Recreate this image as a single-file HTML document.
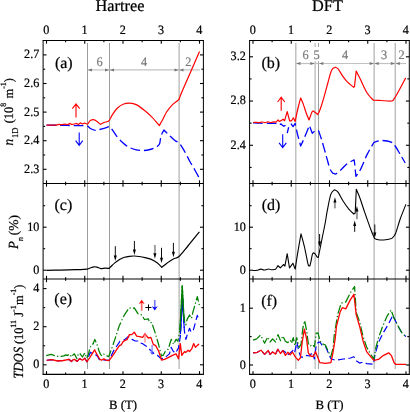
<!DOCTYPE html>
<html><head><meta charset="utf-8"><title>fig</title>
<style>html,body{margin:0;padding:0;background:#fff}svg{display:block;will-change:transform;text-rendering:geometricPrecision}text{stroke:#000;stroke-width:.22px}text.g{stroke:#7a7a7a}</style></head>
<body>
<svg width="410" height="412" viewBox="0 0 410 412" font-family="'Liberation Serif', serif" fill="#000">
<rect width="410" height="412" fill="#fff"/>
<line x1="87.50" y1="43" x2="87.50" y2="369" stroke="#9c9c9c" stroke-width="1"/>
<line x1="109.50" y1="43" x2="109.50" y2="369" stroke="#9c9c9c" stroke-width="1"/>
<line x1="179.10" y1="43" x2="179.10" y2="369" stroke="#a0a0a0" stroke-width="1"/>
<line x1="295.85" y1="43" x2="295.85" y2="369" stroke="#a0a0a0" stroke-width="1"/>
<line x1="315.10" y1="43" x2="315.10" y2="369" stroke="#a6a6a6" stroke-width="1"/>
<line x1="318.50" y1="43" x2="318.50" y2="369" stroke="#a0a0a0" stroke-width="1"/>
<line x1="374.12" y1="43" x2="374.12" y2="369" stroke="#a0a0a0" stroke-width="1"/>
<line x1="395.20" y1="43" x2="395.20" y2="369" stroke="#a0a0a0" stroke-width="1"/>
<line x1="87.5" y1="69.9" x2="109.5" y2="69.9" stroke="#c2c2c2" stroke-width="1.2"/>
<path d="M87.8 69.9 l4.2 -1.5 v3z" fill="#777"/>
<path d="M109.2 69.9 l-4.2 -1.5 v3z" fill="#777"/>
<line x1="109.5" y1="69.9" x2="179.0" y2="69.9" stroke="#c2c2c2" stroke-width="1.2"/>
<path d="M109.8 69.9 l4.2 -1.5 v3z" fill="#777"/>
<path d="M178.7 69.9 l-4.2 -1.5 v3z" fill="#777"/>
<line x1="179.0" y1="69.9" x2="200.0" y2="69.9" stroke="#c2c2c2" stroke-width="1.2"/>
<path d="M179.3 69.9 l4.2 -1.5 v3z" fill="#777"/>
<line x1="296.0" y1="63.5" x2="314.8" y2="63.5" stroke="#c2c2c2" stroke-width="1.2"/>
<path d="M296.3 63.5 l4.2 -1.5 v3z" fill="#777"/>
<path d="M314.5 63.5 l-4.2 -1.5 v3z" fill="#777"/>
<line x1="318.8" y1="63.5" x2="374.2" y2="63.5" stroke="#c2c2c2" stroke-width="1.2"/>
<path d="M319.1 63.5 l4.2 -1.5 v3z" fill="#777"/>
<path d="M373.9 63.5 l-4.2 -1.5 v3z" fill="#777"/>
<line x1="374.2" y1="63.5" x2="395.3" y2="63.5" stroke="#c2c2c2" stroke-width="1.2"/>
<path d="M374.5 63.5 l4.2 -1.5 v3z" fill="#777"/>
<path d="M395.0 63.5 l-4.2 -1.5 v3z" fill="#777"/>
<line x1="395.3" y1="63.5" x2="406.0" y2="63.5" stroke="#c2c2c2" stroke-width="1.2"/>
<path d="M395.6 63.5 l4.2 -1.5 v3z" fill="#777"/>
<line x1="314.8" y1="63.5" x2="318.8" y2="63.5" stroke="#c2c2c2" stroke-width="1.2"/>
<rect x="312" y="47" width="9" height="14.2" fill="#fff"/>
<text transform="translate(99.6,65.7) scale(0.95,1)" font-size="13" fill="#7a7a7a" class="g" text-anchor="middle">6</text>
<text transform="translate(144.1,65.7) scale(0.95,1)" font-size="13" fill="#7a7a7a" class="g" text-anchor="middle">4</text>
<text transform="translate(188.3,65.7) scale(0.95,1)" font-size="13" fill="#7a7a7a" class="g" text-anchor="middle">2</text>
<text transform="translate(305.5,58.7) scale(0.95,1)" font-size="13" fill="#7a7a7a" class="g" text-anchor="middle">6</text>
<text transform="translate(316.7,58.7) scale(0.95,1)" font-size="13" fill="#7a7a7a" class="g" text-anchor="middle">5</text>
<text transform="translate(345.0,58.7) scale(0.95,1)" font-size="13" fill="#7a7a7a" class="g" text-anchor="middle">4</text>
<text transform="translate(384.0,58.7) scale(0.95,1)" font-size="13" fill="#7a7a7a" class="g" text-anchor="middle">3</text>
<text transform="translate(401.5,58.7) scale(0.95,1)" font-size="13" fill="#7a7a7a" class="g" text-anchor="middle">2</text>
<path d="M46.50 125.20 C48.75 125.22 56.08 125.25 60.00 125.30 C63.92 125.35 66.67 125.45 70.00 125.50 C73.33 125.55 77.08 125.53 80.00 125.60 C82.92 125.67 86.25 125.85 87.50 125.90 C88.07 126.38 89.62 128.07 90.90 128.80 C92.18 129.53 93.75 130.18 95.20 130.30 C96.65 130.42 98.13 129.82 99.60 129.50 C101.07 129.18 102.40 128.88 104.00 128.40 C105.60 127.92 108.33 126.90 109.20 126.60 C109.68 127.08 110.77 127.78 112.10 129.50 C113.43 131.22 115.37 134.65 117.20 136.90 C119.03 139.15 121.15 141.28 123.10 143.00 C125.05 144.72 126.72 146.07 128.90 147.20 C131.08 148.33 133.75 149.25 136.20 149.80 C138.65 150.35 141.30 150.55 143.60 150.50 C145.90 150.45 147.95 150.05 150.00 149.50 C152.05 148.95 154.32 148.12 155.90 147.20 C157.48 146.28 158.65 145.88 159.50 144.00 C160.35 142.12 160.27 138.23 161.00 135.90 C161.73 133.57 163.42 130.98 163.90 130.00 C164.75 130.85 167.17 133.35 169.00 135.10 C170.83 136.85 173.18 139.15 174.90 140.50 C176.62 141.85 177.83 141.65 179.30 143.20 C180.77 144.75 182.00 146.88 183.70 149.80 C185.40 152.72 187.55 157.17 189.50 160.70 C191.45 164.23 193.82 168.18 195.40 171.00 C196.98 173.82 198.40 176.50 199.00 177.60" fill="none" stroke="#0000ff" stroke-width="1.30" stroke-linejoin="round" stroke-dasharray="9.7 3.9" stroke-dashoffset="0"/>
<path d="M46.50 125.10 C48.10 125.10 54.02 125.22 56.10 125.10 C58.18 124.98 58.02 124.47 59.00 124.40 C59.98 124.33 61.02 124.75 62.00 124.70 C62.98 124.65 63.93 124.12 64.90 124.10 C65.87 124.08 67.32 124.52 67.80 124.60 C68.17 124.40 69.63 123.60 70.00 123.40 C70.25 123.57 71.25 124.23 71.50 124.40 C71.98 124.33 73.55 124.17 74.40 124.00 C75.25 123.83 76.23 123.50 76.60 123.40 C76.90 123.60 78.10 124.40 78.40 124.60 C78.72 124.32 79.98 123.18 80.30 122.90 C80.67 123.08 82.13 123.82 82.50 124.00 C82.87 123.85 84.33 123.25 84.70 123.10 C85.07 123.25 86.38 123.85 86.90 124.00 C87.42 124.15 87.65 124.00 87.80 124.00 C88.18 123.42 89.72 121.08 90.10 120.50 C90.58 120.37 92.02 119.67 93.00 119.70 C93.98 119.73 94.77 119.92 96.00 120.70 C97.23 121.48 99.67 123.78 100.40 124.40 C101.00 124.08 102.78 122.98 104.00 122.50 C105.22 122.02 106.78 121.92 107.70 121.50 C108.62 121.08 108.65 121.22 109.50 120.00 C110.35 118.78 111.52 116.15 112.80 114.20 C114.08 112.25 115.48 109.95 117.20 108.30 C118.92 106.65 121.02 105.15 123.10 104.30 C125.18 103.45 127.52 103.15 129.70 103.20 C131.88 103.25 133.72 103.38 136.20 104.60 C138.68 105.82 141.97 108.42 144.60 110.50 C147.23 112.58 149.55 114.58 152.00 117.10 C154.45 119.62 158.08 124.18 159.30 125.60 C159.90 124.55 161.68 121.57 162.90 119.30 C164.12 117.03 165.00 114.45 166.60 112.00 C168.20 109.55 170.55 106.60 172.50 104.60 C174.45 102.60 177.08 101.22 178.30 100.00 C179.52 98.78 179.07 98.97 179.80 97.30 C180.53 95.63 179.42 97.62 182.70 90.00 C185.98 82.38 196.70 58.00 199.50 51.60" fill="none" stroke="#ff0000" stroke-width="1.20" stroke-linejoin="round"/>
<path d="M253.10 122.80 C254.25 122.87 257.18 123.10 260.00 123.20 C262.82 123.30 267.33 123.37 270.00 123.40 C272.67 123.43 274.67 123.17 276.00 123.40 C277.33 123.63 277.67 124.57 278.00 124.80 C278.50 124.67 280.50 124.13 281.00 124.00 C281.48 124.38 283.42 125.92 283.90 126.30 C284.17 126.12 285.23 125.38 285.50 125.20" fill="none" stroke="#0000ff" stroke-width="1.30" stroke-linejoin="round" stroke-dasharray="9.7 3.9" stroke-dashoffset="0"/>
<path d="M287.20 133.20 C287.50 132.10 288.33 128.13 289.00 126.60 C289.67 125.07 290.83 124.43 291.20 124.00 C291.52 124.43 292.78 126.17 293.10 126.60 C293.43 126.07 294.77 123.93 295.10 123.40 C295.55 125.40 296.87 131.63 297.80 135.40 C298.73 139.17 300.22 144.23 300.70 146.00 C301.33 144.58 303.05 140.92 304.50 137.50 C305.95 134.08 308.58 127.50 309.40 125.50 C309.88 126.80 311.82 132.00 312.30 133.30 C312.78 132.82 314.72 130.88 315.20 130.40 C315.78 130.50 318.12 130.90 318.70 131.00 C319.25 132.67 320.80 137.05 322.00 141.00 C323.20 144.95 324.60 150.15 325.90 154.70 C327.20 159.25 328.67 165.23 329.80 168.30 C330.93 171.37 332.22 172.30 332.70 173.10 C333.18 173.27 335.12 173.93 335.60 174.10 C336.42 173.45 338.63 171.88 340.50 170.20 C342.37 168.52 344.60 165.68 346.80 164.00 C349.00 162.32 352.55 160.75 353.70 160.10 C353.82 160.33 354.03 158.80 354.40 161.50 C354.77 164.20 355.65 173.83 355.90 176.30 C356.67 175.17 358.60 173.20 360.50 169.50 C362.40 165.80 365.03 158.65 367.30 154.10 C369.57 149.55 372.97 144.18 374.10 142.20 C375.38 141.92 378.95 140.50 381.80 140.50 C384.65 140.50 388.92 141.20 391.20 142.20 C393.48 143.20 393.93 144.37 395.50 146.50 C397.07 148.63 398.98 152.25 400.60 155.00 C402.22 157.75 404.43 161.67 405.20 163.00" fill="none" stroke="#0000ff" stroke-width="1.30" stroke-linejoin="round" stroke-dasharray="9.7 3.9" stroke-dashoffset="3.7"/>
<path d="M253.10 122.50 C253.75 122.47 256.02 122.27 257.00 122.30 C257.98 122.33 258.17 122.75 259.00 122.70 C259.83 122.65 261.00 122.02 262.00 122.00 C263.00 121.98 264.00 122.62 265.00 122.60 C266.00 122.58 267.00 121.92 268.00 121.90 C269.00 121.88 270.00 122.52 271.00 122.50 C272.00 122.48 273.17 121.85 274.00 121.80 C274.83 121.75 275.67 122.13 276.00 122.20 C276.33 121.83 277.67 120.37 278.00 120.00 C278.25 120.25 279.25 121.25 279.50 121.50 C280.10 121.13 282.50 119.67 283.10 119.30 C283.35 119.53 284.35 120.47 284.60 120.70 C285.03 119.20 286.77 113.20 287.20 111.70 C287.62 113.25 289.28 119.45 289.70 121.00 C290.00 120.97 291.20 120.83 291.50 120.80 C291.82 120.30 293.08 118.30 293.40 117.80 C293.68 118.42 294.82 120.88 295.10 121.50 C295.55 119.42 296.87 112.92 297.80 109.00 C298.73 105.08 300.22 99.83 300.70 98.00 C301.12 98.98 302.30 101.45 303.20 103.90 C304.10 106.35 305.13 110.02 306.10 112.70 C307.07 115.38 308.52 118.78 309.00 120.00 C309.50 118.67 311.27 113.50 312.00 112.00 C312.73 110.50 313.17 111.17 313.40 111.00 C313.77 111.28 314.87 112.12 315.60 112.70 C316.33 113.28 317.43 114.20 317.80 114.50 C318.17 113.72 319.02 112.53 320.00 109.80 C320.98 107.07 322.35 102.73 323.70 98.10 C325.05 93.47 326.88 86.40 328.10 82.00 C329.32 77.60 330.15 74.02 331.00 71.70 C331.85 69.38 332.83 68.70 333.20 68.10 C333.57 67.97 335.03 67.43 335.40 67.30 C335.88 67.60 337.08 67.63 338.30 69.10 C339.52 70.57 341.28 74.07 342.70 76.10 C344.12 78.13 344.97 79.43 346.80 81.30 C348.63 83.17 352.55 86.30 353.70 87.30 C353.83 87.17 354.37 86.63 354.50 86.50 C354.78 83.93 355.92 73.67 356.20 71.10 C356.92 72.52 358.65 75.90 360.50 79.60 C362.35 83.30 365.17 89.88 367.30 93.30 C369.43 96.72 372.30 98.97 373.30 100.10 C374.58 100.17 378.02 100.35 381.00 100.50 C383.98 100.65 389.07 101.20 391.20 101.00 C393.33 100.80 392.37 101.30 393.80 99.30 C395.23 97.30 397.82 92.57 399.80 89.00 C401.78 85.43 404.72 79.75 405.70 77.90" fill="none" stroke="#ff0000" stroke-width="1.20" stroke-linejoin="round"/>
<path d="M46.50 270.30 C48.75 270.27 55.25 270.20 60.00 270.10 C64.75 270.00 70.47 269.87 75.00 269.70 C79.53 269.53 84.70 269.38 87.20 269.10 C89.70 268.82 88.85 268.38 90.00 268.00 C91.15 267.62 92.93 266.93 94.10 266.80 C95.27 266.67 95.85 266.90 97.00 267.20 C98.15 267.50 99.67 268.45 101.00 268.60 C102.33 268.75 103.62 268.13 105.00 268.10 C106.38 268.07 108.58 268.35 109.30 268.40 C109.67 268.00 110.58 266.92 111.50 266.00 C112.42 265.08 113.45 263.98 114.80 262.90 C116.15 261.82 117.98 260.43 119.60 259.50 C121.22 258.57 122.87 257.83 124.50 257.30 C126.13 256.77 127.77 256.52 129.40 256.30 C131.03 256.08 132.68 255.97 134.30 256.00 C135.92 256.03 137.32 256.23 139.10 256.50 C140.88 256.77 142.97 257.12 145.00 257.60 C147.03 258.08 149.23 258.50 151.30 259.40 C153.37 260.30 155.67 261.68 157.40 263.00 C159.13 264.32 160.98 266.58 161.70 267.30 C162.62 266.58 165.27 264.40 167.20 263.00 C169.13 261.60 171.35 259.98 173.30 258.90 C175.25 257.82 176.47 258.65 178.90 256.50 C181.33 254.35 184.48 250.12 187.90 246.00 C191.32 241.88 197.48 234.17 199.40 231.80" fill="none" stroke="#000" stroke-width="1.20" stroke-linejoin="round"/>
<path d="M253.00 270.50 C253.67 270.47 255.72 270.53 257.00 270.30 C258.28 270.07 259.52 269.15 260.70 269.10 C261.88 269.05 262.77 270.02 264.10 270.00 C265.43 269.98 267.55 269.03 268.70 269.00 C269.85 268.97 269.85 269.75 271.00 269.80 C272.15 269.85 274.83 269.38 275.60 269.30 C276.00 268.68 277.60 266.22 278.00 265.60 C278.38 265.98 279.92 267.52 280.30 267.90 C280.87 267.33 283.13 265.07 283.70 264.50 C283.90 264.77 284.70 265.83 284.90 266.10 C285.28 264.03 286.82 255.77 287.20 253.70 C287.58 256.08 289.12 265.62 289.50 268.00 C290.07 267.22 292.33 264.08 292.90 263.30 C293.28 264.27 294.82 268.13 295.20 269.10 C295.58 266.60 296.53 259.98 297.50 254.10 C298.47 248.22 300.42 237.18 301.00 233.80 C301.58 236.03 303.40 242.45 304.50 247.20 C305.60 251.95 306.90 259.18 307.60 262.30 C308.30 265.42 308.52 265.30 308.70 265.90 C308.90 265.90 309.70 265.90 309.90 265.90 C310.08 265.13 310.60 263.18 311.00 261.30 C311.40 259.42 311.87 256.02 312.30 254.60 C312.73 253.18 313.38 253.10 313.60 252.80 C313.87 253.00 314.62 253.32 315.20 254.00 C315.78 254.68 316.58 256.32 317.10 256.90 C317.62 257.48 318.10 257.40 318.30 257.50 C318.87 254.63 320.55 246.05 321.70 240.30 C322.85 234.55 324.30 227.77 325.20 223.00 C326.10 218.23 326.18 216.43 327.10 211.70 C328.02 206.97 329.48 198.25 330.70 194.60 C331.92 190.95 333.78 190.60 334.40 189.80 C335.00 190.20 336.58 190.38 338.00 192.20 C339.42 194.02 341.07 197.85 342.90 200.70 C344.73 203.55 347.17 207.07 349.00 209.30 C350.83 211.53 353.08 213.30 353.90 214.10 C354.12 213.92 354.98 213.18 355.20 213.00 C355.38 209.05 356.12 193.25 356.30 189.30 C356.92 190.80 358.57 194.37 360.00 198.30 C361.43 202.23 363.07 207.62 364.90 212.90 C366.73 218.18 369.38 225.73 371.00 230.00 C372.62 234.27 374.00 237.08 374.60 238.50 C375.22 238.72 376.47 239.58 378.30 239.80 C380.13 240.02 383.37 240.02 385.60 239.80 C387.83 239.58 390.68 238.72 391.70 238.50 C392.32 237.70 393.98 236.95 395.40 233.70 C396.82 230.45 398.45 223.88 400.20 219.00 C401.95 214.12 404.95 206.83 405.90 204.40" fill="none" stroke="#000" stroke-width="1.10" stroke-linejoin="round"/>
<polyline points="46.7,360.3 51.8,359.7 57.6,361.0 63.5,360.5 68.9,359.3 71.4,361.5 72.9,359.9 74.4,359.4 77.2,361.4 79.6,358.6 82.4,360.2 84.8,358.2 86.8,361.8 88.2,357.5 90.4,352.2 92.8,353.8 96.0,355.0 97.8,356.6 99.4,359.7 108.9,360.4 114.0,350.1 119.9,341.4 124.3,339.9 128.1,336.7 130.5,337.2 132.1,339.4 135.2,341.0 138.4,341.0 140.0,343.0 142.3,343.5 146.3,346.2 148.6,347.8 150.2,350.1 152.6,351.7 154.1,354.1 157.3,355.2 160.4,358.0 163.5,358.8 166.4,356.4 169.4,353.9 171.2,347.3 173.0,350.9 175.5,353.3 178.5,347.9 180.4,336.0 181.4,318.0 182.5,297.5 183.4,314.0 184.4,331.2 185.9,339.3 187.4,334.2 189.6,328.3 191.0,332.0 193.2,330.5 195.4,322.5 197.3,315.3 198.8,320.3" fill="none" stroke="#0000ff" stroke-width="1.20" stroke-linejoin="round" stroke-dasharray="7 3.5"/>
<polyline points="180.4,334 181.4,318 182.5,297.5 183.4,314 184.2,328" fill="none" stroke="#0000ff" stroke-width="1.2" stroke-linejoin="round"/>
<polyline points="46.2,355.6 49.0,354.9 51.3,354.4 53.5,355.2 55.7,356.3 58.3,356.4 61.2,356.3 63.8,355.9 65.9,354.9 67.4,355.6 69.2,354.1 70.7,355.6 71.8,357.0 73.0,354.9 74.4,353.8 76.8,358.6 78.0,355.0 79.6,353.0 82.4,357.0 84.8,353.0 86.8,358.2 88.4,354.2 90.0,347.8 92.0,344.2 93.2,343.8 94.8,339.4 96.8,343.8 98.8,350.2 100.4,354.2 102.0,356.0 103.8,354.2 106.0,355.3 108.7,356.7 113.2,344.3 115.1,338.6 119.4,325.4 124.3,315.1 129.2,307.8 132.1,308.6 134.3,307.8 137.9,313.7 140.9,314.4 144.5,319.5 148.2,318.8 149.7,322.5 151.6,322.5 154.8,331.6 158.5,344.2 161.5,355.8 163.3,355.2 165.2,351.5 168.2,349.1 171.2,339.4 173.6,344.2 176.1,339.4 177.9,341.2 179.9,330.0 181.0,310.0 182.2,285.9 183.2,303.0 183.8,315.0 184.5,321.5 185.8,324.8 187.1,319.4 189.5,315.0 191.5,318.4 192.9,312.1 194.9,305.3 197.3,296.6 199.4,305.3" fill="none" stroke="#008000" stroke-width="1.25" stroke-linejoin="round" stroke-dasharray="9 2.3 1.3 2.3"/>
<polyline points="179.9,330 181.0,310 182.25,285.9 183.2,303 183.8,315 184.5,321.5" fill="none" stroke="#008000" stroke-width="1.25" stroke-linejoin="round"/>
<polyline points="46.7,360.3 51.8,359.7 57.6,361.0 63.5,360.5 68.9,359.3 71.4,361.5 72.9,359.9 74.4,359.4 77.2,361.4 79.6,358.6 82.4,360.2 84.8,358.2 86.8,361.8 89.6,357.8 92.0,354.2 94.6,349.8 96.8,354.2 99.6,359.0 101.5,360.2 103.8,358.9 106.0,360.1 108.9,360.7 112.6,355.8 117.0,349.2 119.6,345.3 121.1,345.0 123.0,341.8 125.0,340.4 127.0,339.6 129.4,334.6 131.8,334.6 134.3,332.2 136.7,336.1 139.6,336.6 142.6,337.4 145.0,334.1 148.4,338.0 150.9,337.4 153.3,344.4 155.7,345.6 158.7,351.2 161.5,360.0 164.5,359.4 168.2,357.6 173.0,355.2 176.1,353.9 178.5,358.8 180.3,343.6 181.8,355.3 184.5,351.6 185.9,352.4 188.1,350.2 189.6,351.6 191.8,348.7 193.7,343.6 195.4,347.3 197.6,345.1 199.1,344.1" fill="none" stroke="#ff0000" stroke-width="1.30" stroke-linejoin="round"/>
<polyline points="253.0,352.9 257.3,352.3 261.0,350.2 264.6,354.4 268.3,350.5 270.1,354.4 272.6,352.0 275.6,354.1 277.8,349.3 280.5,353.5 282.9,350.5 284.8,351.7 287.2,355.4 290.2,352.9 292.9,350.5 294.5,352.9 297.0,342.0 298.8,351.7 301.0,357.2 303.4,357.2 306.5,355.4 309.5,356.0 312.6,352.3 314.4,359.0 316.2,345.6 318.0,342.6 319.9,342.0 322.3,345.6 325.4,346.2 327.8,351.7 330.9,358.8 335.4,360.2 343.5,359.0 350.4,358.0 353.9,356.7 356.2,360.8 359.6,363.1 363.1,362.0 366.6,363.6 373.5,364.3 375.0,354.6 378.7,341.9 383.2,332.8 388.7,323.7 392.7,315.5 394.1,318.2 398.7,327.3 402.3,333.7 406.0,336.4" fill="none" stroke="#0000ff" stroke-width="1.20" stroke-linejoin="round" stroke-dasharray="7 3.5"/>
<polyline points="253.0,340.1 256.7,338.9 260.4,335.2 262.2,338.3 264.6,343.2 267.7,337.1 270.1,342.0 272.6,338.9 275.6,342.0 278.0,334.6 280.5,340.7 282.9,335.9 285.4,341.3 287.8,342.6 290.2,340.1 291.5,343.2 293.3,337.7 294.9,345.6 296.7,337.7 299.1,347.4 301.0,344.4 302.8,328.5 304.6,320.6 306.5,329.8 308.3,343.2 310.1,346.2 312.6,344.4 314.4,346.8 316.2,333.4 318.0,332.8 319.9,340.7 322.3,343.8 325.4,345.0 327.8,350.5 330.9,356.6 333.3,346.8 334.2,335.4 337.7,314.6 341.2,303.1 345.8,301.9 350.4,292.7 354.6,286.5 356.2,312.3 359.6,321.6 363.1,336.6 366.6,347.0 371.2,355.1 374.0,358.9 375.9,347.4 378.7,337.3 382.3,327.3 386.9,316.4 391.0,310.0 394.1,318.2 398.7,327.3 402.3,333.7 406.0,336.4" fill="none" stroke="#008000" stroke-width="1.25" stroke-linejoin="round" stroke-dasharray="9 2.3 1.3 2.3"/>
<polyline points="253.0,352.9 257.3,352.3 261.0,350.2 264.6,354.4 268.3,350.5 270.1,354.4 272.6,352.0 275.6,354.1 277.8,349.3 280.5,353.5 282.9,350.5 285.4,355.4 287.8,352.3 290.2,354.8 292.5,352.0 295.6,357.4 298.4,360.2 300.4,357.8 302.2,342.0 304.4,329.1 306.5,338.3 308.3,352.9 310.7,356.0 313.2,356.6 315.6,351.7 317.4,356.6 319.9,362.7 325.4,363.3 330.9,362.7 332.7,354.1 335.1,339.5 336.5,326.2 340.0,312.3 342.3,307.7 345.8,308.9 350.4,299.6 353.9,294.3 356.2,314.6 359.6,326.2 363.1,341.2 366.6,351.6 371.2,357.4 374.0,360.4 378.4,359.4 383.2,355.6 388.7,352.8 391.4,355.6 394.1,362.8 395.6,364.3 406.0,364.3" fill="none" stroke="#ff0000" stroke-width="1.30" stroke-linejoin="round"/>
<path d="M42.6 40.5 H203.9 M42.6 374.4 H203.9" stroke="#000" stroke-width="1.15" fill="none"/>
<path d="M43.1 40.5 V374.4 M203.4 40.5 V374.4" stroke="#000" stroke-width="1.0" fill="none"/>
<line x1="43.1" y1="183.5" x2="203.4" y2="183.5" stroke="#000" stroke-width="1"/>
<line x1="43.1" y1="279.0" x2="203.4" y2="279.0" stroke="#000" stroke-width="1"/>
<path d="M249.1 40.5 H409.8 M249.1 374.4 H409.8" stroke="#000" stroke-width="1.15" fill="none"/>
<path d="M249.6 40.5 V374.4 M409.3 40.5 V374.4" stroke="#000" stroke-width="1.0" fill="none"/>
<line x1="249.6" y1="183.5" x2="409.3" y2="183.5" stroke="#000" stroke-width="1"/>
<line x1="249.6" y1="279.0" x2="409.3" y2="279.0" stroke="#000" stroke-width="1"/>
<line x1="46.50" y1="40.50" x2="46.50" y2="43.70" stroke="#000" stroke-width="1.1"/>
<line x1="46.50" y1="374.35" x2="46.50" y2="371.15" stroke="#000" stroke-width="1.1"/>
<line x1="46.50" y1="180.30" x2="46.50" y2="186.70" stroke="#000" stroke-width="1.1"/>
<line x1="46.50" y1="275.80" x2="46.50" y2="282.20" stroke="#000" stroke-width="1.1"/>
<line x1="65.62" y1="40.50" x2="65.62" y2="42.30" stroke="#000" stroke-width="1.1"/>
<line x1="65.62" y1="374.35" x2="65.62" y2="372.55" stroke="#000" stroke-width="1.1"/>
<line x1="65.62" y1="181.70" x2="65.62" y2="185.30" stroke="#000" stroke-width="1.1"/>
<line x1="65.62" y1="277.20" x2="65.62" y2="280.80" stroke="#000" stroke-width="1.1"/>
<line x1="84.75" y1="40.50" x2="84.75" y2="43.70" stroke="#000" stroke-width="1.1"/>
<line x1="84.75" y1="374.35" x2="84.75" y2="371.15" stroke="#000" stroke-width="1.1"/>
<line x1="84.75" y1="180.30" x2="84.75" y2="186.70" stroke="#000" stroke-width="1.1"/>
<line x1="84.75" y1="275.80" x2="84.75" y2="282.20" stroke="#000" stroke-width="1.1"/>
<line x1="103.88" y1="40.50" x2="103.88" y2="42.30" stroke="#000" stroke-width="1.1"/>
<line x1="103.88" y1="374.35" x2="103.88" y2="372.55" stroke="#000" stroke-width="1.1"/>
<line x1="103.88" y1="181.70" x2="103.88" y2="185.30" stroke="#000" stroke-width="1.1"/>
<line x1="103.88" y1="277.20" x2="103.88" y2="280.80" stroke="#000" stroke-width="1.1"/>
<line x1="123.00" y1="40.50" x2="123.00" y2="43.70" stroke="#000" stroke-width="1.1"/>
<line x1="123.00" y1="374.35" x2="123.00" y2="371.15" stroke="#000" stroke-width="1.1"/>
<line x1="123.00" y1="180.30" x2="123.00" y2="186.70" stroke="#000" stroke-width="1.1"/>
<line x1="123.00" y1="275.80" x2="123.00" y2="282.20" stroke="#000" stroke-width="1.1"/>
<line x1="142.12" y1="40.50" x2="142.12" y2="42.30" stroke="#000" stroke-width="1.1"/>
<line x1="142.12" y1="374.35" x2="142.12" y2="372.55" stroke="#000" stroke-width="1.1"/>
<line x1="142.12" y1="181.70" x2="142.12" y2="185.30" stroke="#000" stroke-width="1.1"/>
<line x1="142.12" y1="277.20" x2="142.12" y2="280.80" stroke="#000" stroke-width="1.1"/>
<line x1="161.25" y1="40.50" x2="161.25" y2="43.70" stroke="#000" stroke-width="1.1"/>
<line x1="161.25" y1="374.35" x2="161.25" y2="371.15" stroke="#000" stroke-width="1.1"/>
<line x1="161.25" y1="180.30" x2="161.25" y2="186.70" stroke="#000" stroke-width="1.1"/>
<line x1="161.25" y1="275.80" x2="161.25" y2="282.20" stroke="#000" stroke-width="1.1"/>
<line x1="180.38" y1="40.50" x2="180.38" y2="42.30" stroke="#000" stroke-width="1.1"/>
<line x1="180.38" y1="374.35" x2="180.38" y2="372.55" stroke="#000" stroke-width="1.1"/>
<line x1="180.38" y1="181.70" x2="180.38" y2="185.30" stroke="#000" stroke-width="1.1"/>
<line x1="180.38" y1="277.20" x2="180.38" y2="280.80" stroke="#000" stroke-width="1.1"/>
<line x1="199.50" y1="40.50" x2="199.50" y2="43.70" stroke="#000" stroke-width="1.1"/>
<line x1="199.50" y1="374.35" x2="199.50" y2="371.15" stroke="#000" stroke-width="1.1"/>
<line x1="199.50" y1="180.30" x2="199.50" y2="186.70" stroke="#000" stroke-width="1.1"/>
<line x1="199.50" y1="275.80" x2="199.50" y2="282.20" stroke="#000" stroke-width="1.1"/>
<line x1="253.00" y1="40.50" x2="253.00" y2="43.70" stroke="#000" stroke-width="1.1"/>
<line x1="253.00" y1="374.35" x2="253.00" y2="371.15" stroke="#000" stroke-width="1.1"/>
<line x1="253.00" y1="180.30" x2="253.00" y2="186.70" stroke="#000" stroke-width="1.1"/>
<line x1="253.00" y1="275.80" x2="253.00" y2="282.20" stroke="#000" stroke-width="1.1"/>
<line x1="272.12" y1="40.50" x2="272.12" y2="42.30" stroke="#000" stroke-width="1.1"/>
<line x1="272.12" y1="374.35" x2="272.12" y2="372.55" stroke="#000" stroke-width="1.1"/>
<line x1="272.12" y1="181.70" x2="272.12" y2="185.30" stroke="#000" stroke-width="1.1"/>
<line x1="272.12" y1="277.20" x2="272.12" y2="280.80" stroke="#000" stroke-width="1.1"/>
<line x1="291.25" y1="40.50" x2="291.25" y2="43.70" stroke="#000" stroke-width="1.1"/>
<line x1="291.25" y1="374.35" x2="291.25" y2="371.15" stroke="#000" stroke-width="1.1"/>
<line x1="291.25" y1="180.30" x2="291.25" y2="186.70" stroke="#000" stroke-width="1.1"/>
<line x1="291.25" y1="275.80" x2="291.25" y2="282.20" stroke="#000" stroke-width="1.1"/>
<line x1="310.38" y1="40.50" x2="310.38" y2="42.30" stroke="#000" stroke-width="1.1"/>
<line x1="310.38" y1="374.35" x2="310.38" y2="372.55" stroke="#000" stroke-width="1.1"/>
<line x1="310.38" y1="181.70" x2="310.38" y2="185.30" stroke="#000" stroke-width="1.1"/>
<line x1="310.38" y1="277.20" x2="310.38" y2="280.80" stroke="#000" stroke-width="1.1"/>
<line x1="329.50" y1="40.50" x2="329.50" y2="43.70" stroke="#000" stroke-width="1.1"/>
<line x1="329.50" y1="374.35" x2="329.50" y2="371.15" stroke="#000" stroke-width="1.1"/>
<line x1="329.50" y1="180.30" x2="329.50" y2="186.70" stroke="#000" stroke-width="1.1"/>
<line x1="329.50" y1="275.80" x2="329.50" y2="282.20" stroke="#000" stroke-width="1.1"/>
<line x1="348.62" y1="40.50" x2="348.62" y2="42.30" stroke="#000" stroke-width="1.1"/>
<line x1="348.62" y1="374.35" x2="348.62" y2="372.55" stroke="#000" stroke-width="1.1"/>
<line x1="348.62" y1="181.70" x2="348.62" y2="185.30" stroke="#000" stroke-width="1.1"/>
<line x1="348.62" y1="277.20" x2="348.62" y2="280.80" stroke="#000" stroke-width="1.1"/>
<line x1="367.75" y1="40.50" x2="367.75" y2="43.70" stroke="#000" stroke-width="1.1"/>
<line x1="367.75" y1="374.35" x2="367.75" y2="371.15" stroke="#000" stroke-width="1.1"/>
<line x1="367.75" y1="180.30" x2="367.75" y2="186.70" stroke="#000" stroke-width="1.1"/>
<line x1="367.75" y1="275.80" x2="367.75" y2="282.20" stroke="#000" stroke-width="1.1"/>
<line x1="386.88" y1="40.50" x2="386.88" y2="42.30" stroke="#000" stroke-width="1.1"/>
<line x1="386.88" y1="374.35" x2="386.88" y2="372.55" stroke="#000" stroke-width="1.1"/>
<line x1="386.88" y1="181.70" x2="386.88" y2="185.30" stroke="#000" stroke-width="1.1"/>
<line x1="386.88" y1="277.20" x2="386.88" y2="280.80" stroke="#000" stroke-width="1.1"/>
<line x1="406.00" y1="40.50" x2="406.00" y2="43.70" stroke="#000" stroke-width="1.1"/>
<line x1="406.00" y1="374.35" x2="406.00" y2="371.15" stroke="#000" stroke-width="1.1"/>
<line x1="406.00" y1="180.30" x2="406.00" y2="186.70" stroke="#000" stroke-width="1.1"/>
<line x1="406.00" y1="275.80" x2="406.00" y2="282.20" stroke="#000" stroke-width="1.1"/>
<line x1="43.15" y1="54.90" x2="46.55" y2="54.90" stroke="#000" stroke-width="1.1"/>
<line x1="203.40" y1="54.90" x2="200.00" y2="54.90" stroke="#000" stroke-width="1.1"/>
<line x1="43.15" y1="83.50" x2="46.55" y2="83.50" stroke="#000" stroke-width="1.1"/>
<line x1="203.40" y1="83.50" x2="200.00" y2="83.50" stroke="#000" stroke-width="1.1"/>
<line x1="43.15" y1="112.10" x2="46.55" y2="112.10" stroke="#000" stroke-width="1.1"/>
<line x1="203.40" y1="112.10" x2="200.00" y2="112.10" stroke="#000" stroke-width="1.1"/>
<line x1="43.15" y1="140.70" x2="46.55" y2="140.70" stroke="#000" stroke-width="1.1"/>
<line x1="203.40" y1="140.70" x2="200.00" y2="140.70" stroke="#000" stroke-width="1.1"/>
<line x1="43.15" y1="169.30" x2="46.55" y2="169.30" stroke="#000" stroke-width="1.1"/>
<line x1="203.40" y1="169.30" x2="200.00" y2="169.30" stroke="#000" stroke-width="1.1"/>
<line x1="43.15" y1="69.20" x2="45.15" y2="69.20" stroke="#000" stroke-width="1.1"/>
<line x1="203.40" y1="69.20" x2="201.40" y2="69.20" stroke="#000" stroke-width="1.1"/>
<line x1="43.15" y1="97.80" x2="45.15" y2="97.80" stroke="#000" stroke-width="1.1"/>
<line x1="203.40" y1="97.80" x2="201.40" y2="97.80" stroke="#000" stroke-width="1.1"/>
<line x1="43.15" y1="126.40" x2="45.15" y2="126.40" stroke="#000" stroke-width="1.1"/>
<line x1="203.40" y1="126.40" x2="201.40" y2="126.40" stroke="#000" stroke-width="1.1"/>
<line x1="43.15" y1="155.00" x2="45.15" y2="155.00" stroke="#000" stroke-width="1.1"/>
<line x1="203.40" y1="155.00" x2="201.40" y2="155.00" stroke="#000" stroke-width="1.1"/>
<line x1="249.60" y1="56.80" x2="253.00" y2="56.80" stroke="#000" stroke-width="1.1"/>
<line x1="409.30" y1="56.80" x2="405.90" y2="56.80" stroke="#000" stroke-width="1.1"/>
<line x1="249.60" y1="101.04" x2="253.00" y2="101.04" stroke="#000" stroke-width="1.1"/>
<line x1="409.30" y1="101.04" x2="405.90" y2="101.04" stroke="#000" stroke-width="1.1"/>
<line x1="249.60" y1="145.28" x2="253.00" y2="145.28" stroke="#000" stroke-width="1.1"/>
<line x1="409.30" y1="145.28" x2="405.90" y2="145.28" stroke="#000" stroke-width="1.1"/>
<line x1="249.60" y1="78.92" x2="251.60" y2="78.92" stroke="#000" stroke-width="1.1"/>
<line x1="409.30" y1="78.92" x2="407.30" y2="78.92" stroke="#000" stroke-width="1.1"/>
<line x1="249.60" y1="123.16" x2="251.60" y2="123.16" stroke="#000" stroke-width="1.1"/>
<line x1="409.30" y1="123.16" x2="407.30" y2="123.16" stroke="#000" stroke-width="1.1"/>
<line x1="249.60" y1="167.40" x2="251.60" y2="167.40" stroke="#000" stroke-width="1.1"/>
<line x1="409.30" y1="167.40" x2="407.30" y2="167.40" stroke="#000" stroke-width="1.1"/>
<line x1="43.15" y1="270.20" x2="46.55" y2="270.20" stroke="#000" stroke-width="1.1"/>
<line x1="203.40" y1="270.20" x2="200.00" y2="270.20" stroke="#000" stroke-width="1.1"/>
<line x1="43.15" y1="227.20" x2="46.55" y2="227.20" stroke="#000" stroke-width="1.1"/>
<line x1="203.40" y1="227.20" x2="200.00" y2="227.20" stroke="#000" stroke-width="1.1"/>
<line x1="43.15" y1="248.70" x2="45.15" y2="248.70" stroke="#000" stroke-width="1.1"/>
<line x1="203.40" y1="248.70" x2="201.40" y2="248.70" stroke="#000" stroke-width="1.1"/>
<line x1="43.15" y1="205.70" x2="45.15" y2="205.70" stroke="#000" stroke-width="1.1"/>
<line x1="203.40" y1="205.70" x2="201.40" y2="205.70" stroke="#000" stroke-width="1.1"/>
<line x1="249.60" y1="270.20" x2="253.00" y2="270.20" stroke="#000" stroke-width="1.1"/>
<line x1="409.30" y1="270.20" x2="405.90" y2="270.20" stroke="#000" stroke-width="1.1"/>
<line x1="249.60" y1="227.20" x2="253.00" y2="227.20" stroke="#000" stroke-width="1.1"/>
<line x1="409.30" y1="227.20" x2="405.90" y2="227.20" stroke="#000" stroke-width="1.1"/>
<line x1="249.60" y1="248.70" x2="251.60" y2="248.70" stroke="#000" stroke-width="1.1"/>
<line x1="409.30" y1="248.70" x2="407.30" y2="248.70" stroke="#000" stroke-width="1.1"/>
<line x1="249.60" y1="205.70" x2="251.60" y2="205.70" stroke="#000" stroke-width="1.1"/>
<line x1="409.30" y1="205.70" x2="407.30" y2="205.70" stroke="#000" stroke-width="1.1"/>
<line x1="43.15" y1="364.80" x2="46.55" y2="364.80" stroke="#000" stroke-width="1.1"/>
<line x1="203.40" y1="364.80" x2="200.00" y2="364.80" stroke="#000" stroke-width="1.1"/>
<line x1="43.15" y1="326.70" x2="46.55" y2="326.70" stroke="#000" stroke-width="1.1"/>
<line x1="203.40" y1="326.70" x2="200.00" y2="326.70" stroke="#000" stroke-width="1.1"/>
<line x1="43.15" y1="288.60" x2="46.55" y2="288.60" stroke="#000" stroke-width="1.1"/>
<line x1="203.40" y1="288.60" x2="200.00" y2="288.60" stroke="#000" stroke-width="1.1"/>
<line x1="43.15" y1="345.75" x2="45.15" y2="345.75" stroke="#000" stroke-width="1.1"/>
<line x1="203.40" y1="345.75" x2="201.40" y2="345.75" stroke="#000" stroke-width="1.1"/>
<line x1="43.15" y1="307.65" x2="45.15" y2="307.65" stroke="#000" stroke-width="1.1"/>
<line x1="203.40" y1="307.65" x2="201.40" y2="307.65" stroke="#000" stroke-width="1.1"/>
<line x1="249.60" y1="365.00" x2="253.00" y2="365.00" stroke="#000" stroke-width="1.1"/>
<line x1="409.30" y1="365.00" x2="405.90" y2="365.00" stroke="#000" stroke-width="1.1"/>
<line x1="249.60" y1="308.20" x2="253.00" y2="308.20" stroke="#000" stroke-width="1.1"/>
<line x1="409.30" y1="308.20" x2="405.90" y2="308.20" stroke="#000" stroke-width="1.1"/>
<line x1="249.60" y1="336.60" x2="251.60" y2="336.60" stroke="#000" stroke-width="1.1"/>
<line x1="409.30" y1="336.60" x2="407.30" y2="336.60" stroke="#000" stroke-width="1.1"/>
<text transform="translate(46.3,33.9) scale(0.950,1)" font-size="12.8" text-anchor="middle">0</text>
<text transform="translate(46.3,387.9) scale(0.950,1)" font-size="12.8" text-anchor="middle">0</text>
<text transform="translate(84.5,33.9) scale(0.950,1)" font-size="12.8" text-anchor="middle">1</text>
<text transform="translate(84.5,387.9) scale(0.950,1)" font-size="12.8" text-anchor="middle">1</text>
<text transform="translate(122.8,33.9) scale(0.950,1)" font-size="12.8" text-anchor="middle">2</text>
<text transform="translate(122.8,387.9) scale(0.950,1)" font-size="12.8" text-anchor="middle">2</text>
<text transform="translate(161.1,33.9) scale(0.950,1)" font-size="12.8" text-anchor="middle">3</text>
<text transform="translate(161.1,387.9) scale(0.950,1)" font-size="12.8" text-anchor="middle">3</text>
<text transform="translate(199.3,33.9) scale(0.950,1)" font-size="12.8" text-anchor="middle">4</text>
<text transform="translate(199.3,387.9) scale(0.950,1)" font-size="12.8" text-anchor="middle">4</text>
<text transform="translate(252.8,33.9) scale(0.950,1)" font-size="12.8" text-anchor="middle">0</text>
<text transform="translate(252.8,387.9) scale(0.950,1)" font-size="12.8" text-anchor="middle">0</text>
<text transform="translate(291.1,33.9) scale(0.950,1)" font-size="12.8" text-anchor="middle">1</text>
<text transform="translate(291.1,387.9) scale(0.950,1)" font-size="12.8" text-anchor="middle">1</text>
<text transform="translate(329.3,33.9) scale(0.950,1)" font-size="12.8" text-anchor="middle">2</text>
<text transform="translate(329.3,387.9) scale(0.950,1)" font-size="12.8" text-anchor="middle">2</text>
<text transform="translate(367.6,33.9) scale(0.950,1)" font-size="12.8" text-anchor="middle">3</text>
<text transform="translate(367.6,387.9) scale(0.950,1)" font-size="12.8" text-anchor="middle">3</text>
<text transform="translate(405.8,33.9) scale(0.950,1)" font-size="12.8" text-anchor="middle">4</text>
<text transform="translate(405.8,387.9) scale(0.950,1)" font-size="12.8" text-anchor="middle">4</text>
<text transform="translate(39.3,58.3) scale(0.950,1)" font-size="12.8" text-anchor="end">2.7</text>
<text transform="translate(39.3,86.9) scale(0.950,1)" font-size="12.8" text-anchor="end">2.6</text>
<text transform="translate(39.3,115.5) scale(0.950,1)" font-size="12.8" text-anchor="end">2.5</text>
<text transform="translate(39.3,144.1) scale(0.950,1)" font-size="12.8" text-anchor="end">2.4</text>
<text transform="translate(39.3,172.7) scale(0.950,1)" font-size="12.8" text-anchor="end">2.3</text>
<text transform="translate(245.8,60.2) scale(0.950,1)" font-size="12.8" text-anchor="end">3.2</text>
<text transform="translate(245.8,104.4) scale(0.950,1)" font-size="12.8" text-anchor="end">2.8</text>
<text transform="translate(245.8,148.7) scale(0.950,1)" font-size="12.8" text-anchor="end">2.4</text>
<text transform="translate(39.3,273.8) scale(0.950,1)" font-size="12.8" text-anchor="end">0</text>
<text transform="translate(245.8,273.8) scale(0.950,1)" font-size="12.8" text-anchor="end">0</text>
<text transform="translate(39.3,230.8) scale(0.950,1)" font-size="12.8" text-anchor="end">10</text>
<text transform="translate(245.8,230.8) scale(0.950,1)" font-size="12.8" text-anchor="end">10</text>
<text transform="translate(39.3,368.4) scale(0.950,1)" font-size="12.8" text-anchor="end">0</text>
<text transform="translate(39.3,330.3) scale(0.950,1)" font-size="12.8" text-anchor="end">2</text>
<text transform="translate(39.3,292.2) scale(0.950,1)" font-size="12.8" text-anchor="end">4</text>
<text transform="translate(245.8,368.6) scale(0.950,1)" font-size="12.8" text-anchor="end">0</text>
<text transform="translate(245.8,311.8) scale(0.950,1)" font-size="12.8" text-anchor="end">1</text>
<text x="120.0" y="11.3" font-size="16.3" text-anchor="middle">Hartree</text>
<text x="327.5" y="11.3" font-size="16.3" text-anchor="middle">DFT</text>
<text x="123.0" y="408.9" font-size="12.8" text-anchor="middle">B (T)</text>
<text x="329.5" y="408.9" font-size="12.8" text-anchor="middle">B (T)</text>
<text x="63.8" y="68.3" font-size="16" text-anchor="middle">(a)</text>
<text x="270.8" y="68.1" font-size="16" text-anchor="middle">(b)</text>
<text x="63.4" y="209.5" font-size="16" text-anchor="middle">(c)</text>
<text x="271.1" y="209.6" font-size="16" text-anchor="middle">(d)</text>
<text x="63.2" y="303.6" font-size="16" text-anchor="middle">(e)</text>
<text x="269.2" y="305.8" font-size="16" text-anchor="middle">(f)</text>
<text transform="translate(12.7,111.8) rotate(-90) scale(0.95,1)" font-size="13" text-anchor="middle"><tspan font-style="italic" font-size="14">n</tspan><tspan font-size="9" dy="5.1" dx="0.8">1D</tspan><tspan dy="-5.1" dx="1.3"> (10</tspan><tspan font-size="8.2" dy="-6.9">8</tspan><tspan dy="6.9" dx="1.5"> m</tspan><tspan font-size="8.2" dy="-6.9">-1</tspan><tspan dy="6.9">)</tspan></text>
<text transform="translate(18.1,249.0) rotate(-90) scale(0.9,1)" font-size="14" font-style="italic" text-anchor="start">P</text>
<text transform="translate(23.1,241.0) rotate(-90) scale(0.9,1)" font-size="8.6" font-style="italic" text-anchor="start">n</text>
<text transform="translate(17.9,235.3) rotate(-90)" font-size="13.5" text-anchor="start">(%)</text>
<text transform="translate(23.0,378.5) rotate(-90) scale(0.95,1)" font-size="13" text-anchor="start"><tspan font-style="italic" font-size="14" textLength="33.2" lengthAdjust="spacingAndGlyphs">TDOS</tspan><tspan dx="-0.25"> (10</tspan><tspan font-size="8.2" dy="-6.9">11</tspan><tspan dy="6.9" dx="0.3"> J</tspan><tspan font-size="8.2" dy="-6.9">-1</tspan><tspan dy="6.9" dx="0.6">m</tspan><tspan font-size="8.2" dy="-6.9">-1</tspan><tspan dy="6.9">)</tspan></text>
<path d="M76.0 117.5 V103.8 M72.4 108.6 L76.0 103.8 L79.6 108.6" fill="none" stroke="#ff0000" stroke-width="1.10"/>
<path d="M79.2 132.5 V145.4 M75.6 140.6 L79.2 145.4 L82.8 140.6" fill="none" stroke="#0000ff" stroke-width="1.10"/>
<path d="M281.2 110.8 V97.2 M277.6 102.0 L281.2 97.2 L284.8 102.0" fill="none" stroke="#ff0000" stroke-width="1.10"/>
<path d="M282.7 134.2 V147.6 M279.1 142.8 L282.7 147.6 L286.3 142.8" fill="none" stroke="#0000ff" stroke-width="1.10"/>
<path d="M141.70 310.70 V302.20" stroke="#ff6a6a" stroke-width="1.70" fill="none"/>
<path d="M141.70 299.70 L144.70 304.10 L141.70 302.80 L138.70 304.10 Z" fill="#ff0000"/>
<path d="M154.75 300.00 V308.10" stroke="#7a7aff" stroke-width="1.70" fill="none"/>
<path d="M154.75 310.60 L157.75 306.20 L154.75 307.50 L151.75 306.20 Z" fill="#0000ff"/>
<path d="M145.4 307.5h6M148.5 304.4v6.2" stroke="#000" stroke-width="1" fill="none"/>
<path d="M145.00 342.40 V335.10" stroke="#ff9090" stroke-width="1.40" fill="none"/>
<path d="M145.00 332.60 L147.30 336.00 L145.00 334.70 L142.70 336.00 Z" fill="#ff5050"/>
<path d="M152.10 344.90 V352.30" stroke="#8c8cff" stroke-width="1.40" fill="none"/>
<path d="M152.10 354.80 L154.40 351.40 L152.10 352.70 L149.80 351.40 Z" fill="#3030ff"/>
<path d="M115.3 246.2 V257.3" stroke="#000" stroke-width="0.95" fill="none"/>
<path d="M115.30 261.00 l-1.5 -5.4 h3z" fill="#000"/>
<path d="M134.4 240.9 V251.2" stroke="#000" stroke-width="0.95" fill="none"/>
<path d="M134.40 254.90 l-1.5 -5.4 h3z" fill="#000"/>
<path d="M161.5 247.8 V259.4" stroke="#000" stroke-width="0.95" fill="none"/>
<path d="M161.50 263.10 l-1.5 -5.4 h3z" fill="#000"/>
<path d="M173.4 242.9 V253.5" stroke="#000" stroke-width="0.95" fill="none"/>
<path d="M173.40 257.20 l-1.5 -5.4 h3z" fill="#000"/>
<path d="M154.9 245.0 V255.0" stroke="#a0a0a0" stroke-width="2.00" fill="none"/>
<path d="M154.90 258.70 l-1.5 -5.4 h3z" fill="#000"/>
<path d="M319.6 234.0 V243.2" stroke="#000" stroke-width="0.95" fill="none"/>
<path d="M319.60 246.90 l-1.5 -5.4 h3z" fill="#000"/>
<path d="M374.8 224.5 V234.2" stroke="#000" stroke-width="0.95" fill="none"/>
<path d="M374.80 237.90 l-1.5 -5.4 h3z" fill="#000"/>
<path d="M354.7 231.9 V224.3" stroke="#000" stroke-width="0.95" fill="none"/>
<path d="M354.70 220.60 l-1.5 5.4 h3z" fill="#000"/>
<path d="M334.9 208.4 V200.9" stroke="#9a9a9a" stroke-width="2.00" fill="none"/>
<path d="M334.95 197.20 l-1.5 5.4 h3z" fill="#000"/>
<path d="M356.9 219.2 V209.8" stroke="#9a9a9a" stroke-width="2.00" fill="none"/>
<path d="M356.90 206.10 l-1.5 5.4 h3z" fill="#000"/>
</svg>
</body></html>
